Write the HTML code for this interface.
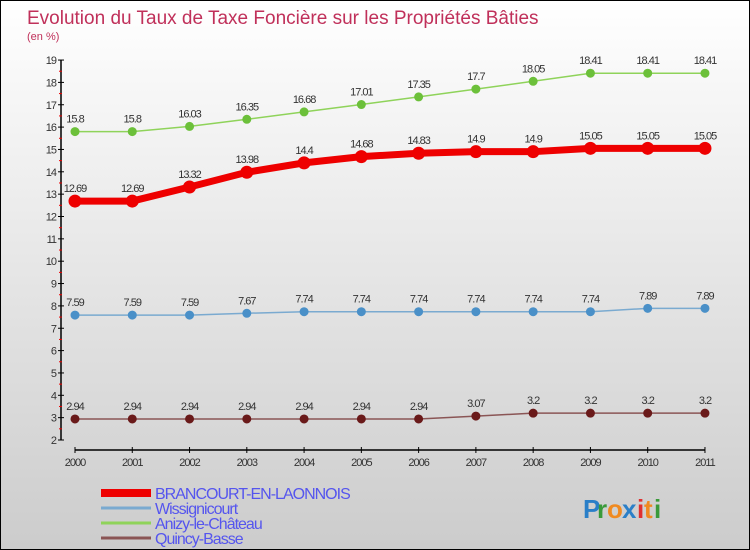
<!DOCTYPE html>
<html><head><meta charset="utf-8"><style>
body{margin:0}
#c{width:748px;height:548px;border:1px solid #000;background:linear-gradient(#fff,#ccc);position:relative;font-family:"Liberation Sans",sans-serif;overflow:hidden}
</style></head><body>
<div id="c">
<svg id="s" width="748" height="548"></svg>
</div>
<script>
const years=["2000","2001","2002","2003","2004","2005","2006","2007","2008","2009","2010","2011"];
const brancourt=[12.69,12.69,13.32,13.98,14.4,14.68,14.83,14.9,14.9,15.05,15.05,15.05];
const wissignicourt=[7.59,7.59,7.59,7.67,7.74,7.74,7.74,7.74,7.74,7.74,7.89,7.89];
const anizy=[15.8,15.8,16.03,16.35,16.68,17.01,17.35,17.7,18.05,18.41,18.41,18.41];
const quincy=[2.94,2.94,2.94,2.94,2.94,2.94,2.94,3.07,3.2,3.2,3.2,3.2];
const yTicks=[2,3,4,5,6,7,8,9,10,11,12,13,14,15,16,17,18,19];
const names=["BRANCOURT-EN-LAONNOIS","Wissignicourt","Anizy-le-Château","Quincy-Basse"];
const NS="http://www.w3.org/2000/svg",s=document.getElementById('s');
const X=i=>74+i*57.27, Y=v=>439-(v-2)*22.35;
function el(t,a,p){const e=document.createElementNS(NS,t);for(const k in a)e.setAttribute(k,a[k]);(p||s).appendChild(e);return e;}
function txt(x,y,str,a){const e=el('text',Object.assign({x:x,y:y},a));e.textContent=str;return e;}
let t=txt(26,23,"Evolution du Taux de Taxe Foncière sur les Propriétés Bâties",{fill:"#c0305a","font-size":19});

t=txt(26,39,"(en %)",{fill:"#c0305a","font-size":11});

let a=el('line',{x1:60,y1:Y(19),x2:60,y2:Y(2),stroke:"#000","stroke-width":1.5});

yTicks.forEach(v=>{el('line',{x1:57,x2:63,y1:Y(v),y2:Y(v),stroke:"#000"});
 if(v<19)el('line',{x1:58,x2:61,y1:Y(v+0.5),y2:Y(v+0.5),stroke:"#e00"});
 const l=txt(55,Y(v)+4,String(v),{"text-anchor":"end","font-size":11,fill:"#333","letter-spacing":"-1"});
 });
a=el('line',{x1:X(0),y1:449,x2:X(11),y2:449,stroke:"#000","stroke-width":1.5});

years.forEach((y,i)=>{el('line',{x1:X(i),x2:X(i),y1:446,y2:452,stroke:"#000"});
 const l=txt(X(i),465,y,{"text-anchor":"middle","font-size":11,fill:"#333","letter-spacing":"-1"});
 });
function series(d,col,dot,w,r,name){
 const g=el('g',{});
 el('polyline',{points:d.map((v,i)=>X(i)+","+Y(v)).join(" "),fill:"none",stroke:col,"stroke-width":w},g);
 d.forEach((v,i)=>{const c=el('circle',{cx:X(i),cy:Y(v),r:r,fill:dot,stroke:dot},g);
  
  const l=txt(X(i),Y(v)-9,String(v),{"text-anchor":"middle","font-size":11,fill:"#333","letter-spacing":"-1"},g);});
}
series(anizy,"#8fd35a","#6cc03a",1.5,4,"series-anizy");
series(wissignicourt,"#7aaad0","#4a90c8",1.5,4,"series-wissignicourt");
series(quincy,"#8a5555","#6a1a1a",1.5,4,"series-quincy");
series(brancourt,"#ee0000","#ee0000",7,6,"series-brancourt");
const lc=["#ee0000","#7aaad0","#8fd35a","#8a5555"],lw=[8,3,3,3];
names.forEach((n,i)=>{const g=el('g',{});
 const y=492+i*15;el('line',{x1:100,x2:150,y1:y,y2:y,stroke:lc[i],"stroke-width":lw[i]},g);
 txt(154,y+6,n,{fill:"#5555ee","font-size":16,"letter-spacing":"-1"},g);});
const lg=el('g',{});
[["P","#2a7fc8"],["r","#3a9a3a"],["o","#f08a20"],["x","#2a7fc8"],["i","#e03030"],["t","#f08a20"],["i","#3a9a3a"]].forEach((c,i)=>{
 txt(582+[0,14,24,39,54,61,71][i],517,c[0],{fill:c[1],"font-size":26,"font-weight":"bold"},lg);});
</script>
</body></html>
